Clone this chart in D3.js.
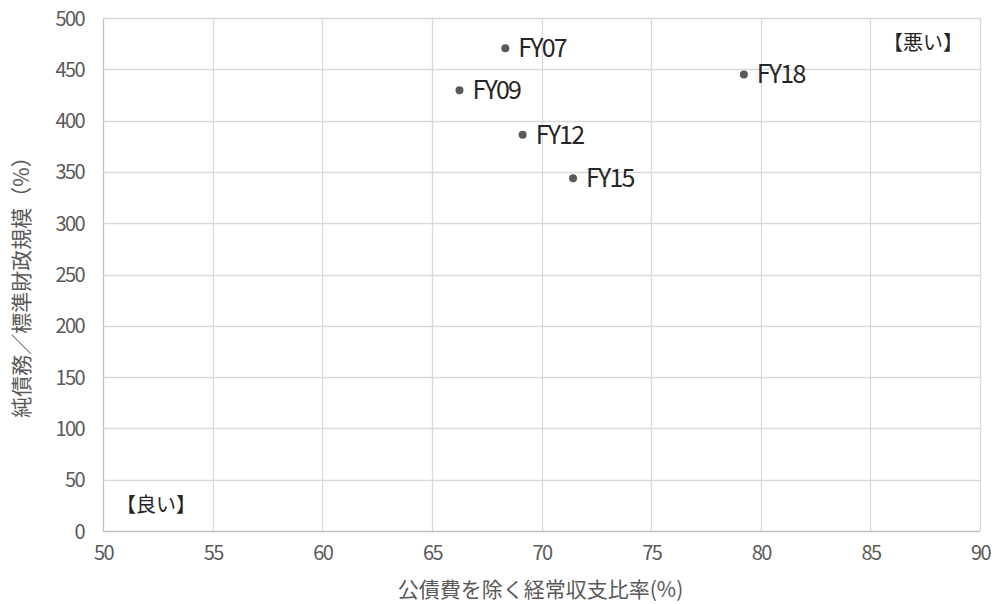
<!DOCTYPE html>
<html>
<head>
<meta charset="utf-8">
<script src="https://cdn.jsdelivr.net/npm/d3@7"></script>
<style>
body { margin: 0; background: #fff; }
svg text { font-family: "Noto Sans CJK JP", "Noto Sans", sans-serif; }
</style>
</head>
<body>
<div id="chart"></div>
<script>
// data
var labels = ["FY07", "FY09", "FY12", "FY15", "FY18"];
var ratio = [68.35, 66.26, 69.14, 71.44, 79.23];   // 公債費を除く経常収支比率
var debt = [470.6, 429.7, 386.2, 343.9, 445.0];    // 純債務／標準財政規模
var xTicks = [50, 55, 60, 65, 70, 75, 80, 85, 90];
var yTicks = [0, 50, 100, 150, 200, 250, 300, 350, 400, 450, 500];

var w_svg = 995, h_svg = 604;
var m = {left: 103, right: 15, top: 18, bottom: 73};

var svg = d3.select("#chart").append("svg")
  .attr("width", w_svg)
  .attr("height", h_svg);

var x = d3.scaleLinear().domain([50, 90]).range([m.left, w_svg - m.right]);
var y = d3.scaleLinear().domain([0, 500]).range([h_svg - m.bottom, m.top]);

// gridlines
svg.append("g").selectAll("line").data(xTicks).enter().append("line")
  .attr("x1", d => Math.round(x(d)) + 0.5).attr("x2", d => Math.round(x(d)) + 0.5)
  .attr("y1", y(500)).attr("y2", y(0))
  .style("stroke", d => d == 50 ? "#bfbfbf" : "#d9d9d9").style("stroke-width", 1.3);
svg.append("g").selectAll("line").data(yTicks).enter().append("line")
  .attr("y1", d => Math.round(y(d)) + 0.5).attr("y2", d => Math.round(y(d)) + 0.5)
  .attr("x1", x(50)).attr("x2", x(90))
  .style("stroke", d => d == 0 ? "#bfbfbf" : "#d9d9d9").style("stroke-width", 1.3);

// axes (labels only)
var xAxis = svg.append("g")
  .attr("transform", "translate(0," + (y(0) + 12) + ")")
  .call(d3.axisBottom(x).tickValues(xTicks).tickSize(0).tickFormat(d3.format("d")));
var yAxis = svg.append("g")
  .attr("transform", "translate(" + (x(50) - 16) + ",0)")
  .call(d3.axisLeft(y).tickValues(yTicks).tickSize(0).tickFormat(d3.format("d")));
[xAxis, yAxis].forEach(function(a) {
  a.select(".domain").remove();
  a.selectAll("text")
    .style("font-size", "20px")
    .style("letter-spacing", "-1.6px")
    .style("fill", "#595959");
});
yAxis.selectAll("text").attr("dy", "0.35em");

// points
svg.append("g").selectAll("circle").data(labels).enter().append("circle")
  .attr("cx", (d, i) => x(ratio[i]))
  .attr("cy", (d, i) => y(debt[i]))
  .attr("r", 4)
  .style("fill", "#595959");

svg.append("g").selectAll("text").data(labels).enter().append("text")
  .attr("x", (d, i) => x(ratio[i]) + 13)
  .attr("y", (d, i) => y(debt[i]))
  .attr("dy", "0.36em")
  .style("font-size", "25px")
  .style("letter-spacing", "-1.8px")
  .style("fill", "#262626")
  .text(d => d);

// corner notes
svg.append("text").attr("x", 963).attr("y", 43).attr("dy", "0.36em")
  .attr("text-anchor", "end").style("font-size", "20px").style("fill", "#262626")
  .text("【悪い】");
svg.append("text").attr("x", 116).attr("y", 505).attr("dy", "0.36em")
  .style("font-size", "20px").style("fill", "#262626")
  .text("【良い】");

// axis titles
svg.append("text")
  .attr("x", (x(50) + x(90)) / 2 - 1).attr("y", 589).attr("dy", "0.36em")
  .attr("text-anchor", "middle").style("font-size", "21px").style("fill", "#595959")
  .text("公債費を除く経常収支比率(%)");
svg.append("text")
  .attr("transform", "translate(21," + 282 + ") rotate(-90)")
  .attr("dy", "0.36em")
  .attr("text-anchor", "middle").style("font-size", "21px").style("fill", "#595959")
  .text("純債務／標準財政規模（%）");
</script>
</body>
</html>
